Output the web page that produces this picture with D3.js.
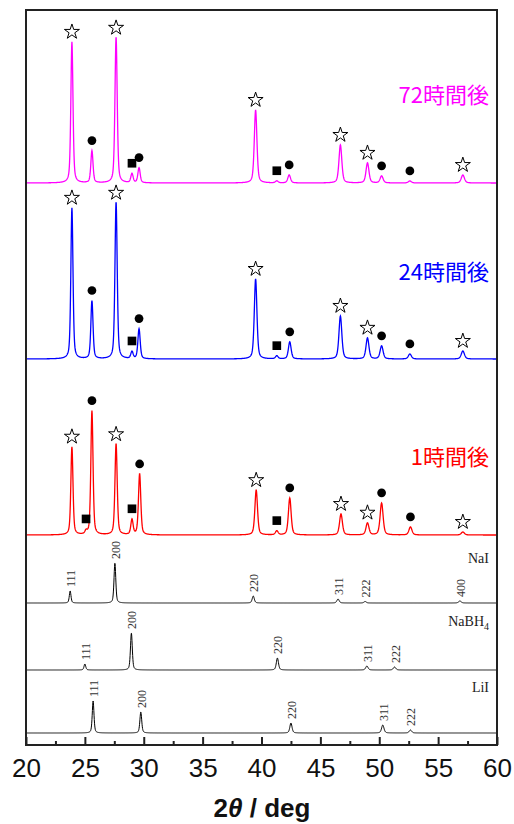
<!DOCTYPE html>
<html>
<head>
<meta charset="utf-8">
<script src="https://cdn.jsdelivr.net/npm/d3@7"></script>
<style>
  body { margin: 0; background: white; }
</style>
</head>
<body>
<div id="chart"></div>
<script>
var width = 514,
    height = 824

// frame of the plot
var plotLeft = 26, plotRight = 497, plotTop = 10, plotBottom = 745

// ---- data ----
// measured patterns: peak positions (2theta), peak heights (a.u.), baseline offset
var seriesNames = ["72時間後", "24時間後", "1時間後"]
var seriesColors = ["#ff00ff", "#0000ff", "#ff0000"]
var seriesOffsets = [562, 386, 210]

var peaks72 = [23.9, 25.6, 27.65, 29.0, 29.6, 39.5, 41.3, 42.35, 46.7, 49.0, 50.2, 52.6, 57.1]
var heights72 = [141, 32, 146, 9, 15, 73, 2, 8, 38, 20, 7, 2, 8]

var peaks24 = [23.9, 25.6, 27.65, 29.0, 29.6, 39.5, 41.3, 42.4, 46.7, 49.0, 50.2, 52.6, 57.1]
var heights24 = [151, 58, 157, 7, 30, 80, 3, 17, 43, 21, 13, 5, 8]

var peaks1 = [23.9, 25.1, 25.6, 27.65, 29.0, 29.65, 39.55, 41.3, 42.4, 46.75, 49.0, 50.2, 52.65, 57.1]
var heights1 = [88, 3, 124, 91, 15, 61, 45, 4, 37, 21, 12, 32, 8, 3]

// phase markers: star = NaI, circle = LiI, square = NaBH4
var markers72 = [[23.9, "star"], [25.6, "circle"], [27.65, "star"], [29.0, "square"], [29.6, "circle"], [39.5, "star"], [41.3, "square"], [42.35, "circle"], [46.7, "star"], [49.0, "star"], [50.2, "circle"], [52.6, "circle"], [57.1, "star"]]
var markers24 = [[23.9, "star"], [25.6, "circle"], [27.65, "star"], [29.0, "square"], [29.6, "circle"], [39.5, "star"], [41.3, "square"], [42.4, "circle"], [46.7, "star"], [49.0, "star"], [50.2, "circle"], [52.6, "circle"], [57.1, "star"]]
var markers1 = [[23.9, "star"], [25.1, "square"], [25.6, "circle"], [27.65, "star"], [29.0, "square"], [29.65, "circle"], [39.55, "star"], [41.3, "square"], [42.4, "circle"], [46.75, "star"], [49.0, "star"], [50.2, "circle"], [52.65, "circle"], [57.1, "star"]]

// reference patterns
var refNames = ["NaI", "NaBH4", "LiI"]
var refOffsets = [142, 75, 12]

var refPeaksNaI = [23.75, 27.55, 39.3, 46.5, 48.8, 56.85]
var refHeightsNaI = [12, 40, 7, 4, 1.5, 2]
var refHklNaI = ["111", "200", "220", "311", "222", "400"]

var refPeaksNaBH4 = [25.0, 28.95, 41.35, 48.95, 51.3]
var refHeightsNaBH4 = [6, 37, 12, 4, 3]
var refHklNaBH4 = ["111", "200", "220", "311", "222"]

var refPeaksLiI = [25.7, 29.75, 42.5, 50.3, 52.65]
var refHeightsLiI = [32, 21, 10, 8, 3]
var refHklLiI = ["111", "200", "220", "311", "222"]

var xTicks = [20, 25, 30, 35, 40, 45, 50, 55, 60]

// ---- scales ----
var x = d3.scaleLinear().domain([20, 60]).range([plotLeft, plotRight])
var y = d3.scaleLinear().domain([0, 735]).range([plotBottom, plotTop])

var svg = d3.select("#chart")
    .append("svg")
        .attr("width", width)
        .attr("height", height)
        .style("background-color", "white")

// pseudo-voigt profile built from the peak list
function profile(pos, hts, offset, fwhm) {
    var pts = []
    for (var t = 20; t <= 60.0001; t += 0.02) {
        var v = offset
        for (var i = 0; i < pos.length; i++) {
            var w = fwhm * (1 + (pos[i] - 20) / 60)
            var d = (t - pos[i]) / (w / 2)
            var lor = 1 / (1 + d * d)
            var gau = Math.exp(-Math.LN2 * d * d)
            v += hts[i] * (0.55 * gau + 0.45 * lor)
        }
        pts.push([t, v])
    }
    return pts
}

var line = d3.line()
    .x(function(d) { return x(d[0]) })
    .y(function(d) { return y(d[1]) })

var seriesPeaks = [peaks72, peaks24, peaks1]
var seriesHeights = [heights72, heights24, heights1]
var seriesMarkers = [markers72, markers24, markers1]

// measured patterns
seriesNames.forEach(function(name, k) {
    var pts = profile(seriesPeaks[k], seriesHeights[k], seriesOffsets[k], 0.2)
    svg.append("path")
        .attr("d", line(pts))
        .attr("fill", "none")
        .attr("stroke", seriesColors[k])
        .attr("stroke-width", 1.3)

    // markers above the peaks
    var star = d3.symbol().type(d3.symbolStar).size(70)
    var circ = d3.symbol().type(d3.symbolCircle).size(60)
    var sq = d3.symbol().type(d3.symbolSquare).size(75)
    seriesMarkers[k].forEach(function(m) {
        var idx = Math.round((m[0] - 20) / 0.02)
        var peakTop = d3.max(pts.slice(idx - 3, idx + 4), function(p) { return p[1] })
        var cy = y(peakTop) - 10
        var sym = m[1] == "star" ? star : (m[1] == "circle" ? circ : sq)
        svg.append("path")
            .attr("d", sym())
            .attr("transform", "translate(" + x(m[0]) + "," + cy + ")")
            .attr("fill", m[1] == "star" ? "white" : "black")
            .attr("stroke", "black")
            .attr("stroke-width", m[1] == "star" ? 1 : 0)
    })

    svg.append("text")
        .attr("x", 489)
        .attr("y", [103, 280, 465][k])
        .attr("text-anchor", "end")
        .style("font-family", "'Noto Sans CJK JP', 'Noto Sans', sans-serif")
        .style("font-size", "22px")
        .attr("fill", seriesColors[k])
        .text(name)
})

// reference patterns
var refPeaks = [refPeaksNaI, refPeaksNaBH4, refPeaksLiI]
var refHeights = [refHeightsNaI, refHeightsNaBH4, refHeightsLiI]
var refHkl = [refHklNaI, refHklNaBH4, refHklLiI]

refNames.forEach(function(name, k) {
    var pts = profile(refPeaks[k], refHeights[k], refOffsets[k], 0.16)
    svg.append("path")
        .attr("d", line(pts))
        .attr("fill", "none")
        .attr("stroke", "black")
        .attr("stroke-width", 1)

    refPeaks[k].forEach(function(p, i) {
        var ty = y(refOffsets[k] + refHeights[k][i]) - 4
        svg.append("text")
            .attr("transform", "translate(" + (x(p) + 5) + "," + ty + ") rotate(-90)")
            .style("font-family", "'Liberation Serif', 'DejaVu Serif', serif")
            .style("font-size", "12px")
            .attr("fill", "#333")
            .text(refHkl[k][i])
    })

    var lab = svg.append("text")
        .attr("x", 489)
        .attr("y", [563, 626, 692][k])
        .attr("text-anchor", "end")
        .style("font-family", "'Liberation Serif', 'DejaVu Serif', serif")
        .style("font-size", "14px")
        .attr("fill", "#222")
    if (name == "NaBH4") {
        lab.append("tspan").text("NaBH")
        lab.append("tspan").attr("dy", 4).style("font-size", "10px").text("4")
    } else {
        lab.text(name)
    }
})

// frame
svg.append("rect")
    .attr("x", plotLeft)
    .attr("y", plotTop)
    .attr("width", plotRight - plotLeft)
    .attr("height", plotBottom - plotTop)
    .attr("fill", "none")
    .attr("stroke", "#222")
    .attr("stroke-width", 2)

// x axis with inward ticks
var axis = svg.append("g")
    .attr("transform", "translate(0," + plotBottom + ")")
    .call(d3.axisBottom(x).tickValues(xTicks).tickSize(-8).tickPadding(14).tickFormat(d3.format("d")))
axis.select(".domain").remove()
axis.selectAll("line").attr("stroke", "#222").attr("stroke-width", 2)
axis.selectAll("text")
    .style("font-family", "'Liberation Sans', Arial, sans-serif")
    .style("font-size", "26px")
    .attr("fill", "#111")

var minor = svg.append("g")
    .attr("transform", "translate(0," + plotBottom + ")")
    .call(d3.axisBottom(x).tickValues(d3.range(22.5, 60, 5)).tickSize(-4).tickFormat(""))
minor.select(".domain").remove()
minor.selectAll("line").attr("stroke", "#222").attr("stroke-width", 2)

// axis title
var title = svg.append("text")
    .attr("x", 262)
    .attr("y", 817)
    .attr("text-anchor", "middle")
    .style("font-family", "'Liberation Sans', Arial, sans-serif")
    .style("font-size", "26px")
    .style("font-weight", "bold")
    .attr("fill", "#111")
title.append("tspan").text("2")
title.append("tspan").style("font-style", "italic").text("θ")
title.append("tspan").text(" / deg")
</script>
</body>
</html>
